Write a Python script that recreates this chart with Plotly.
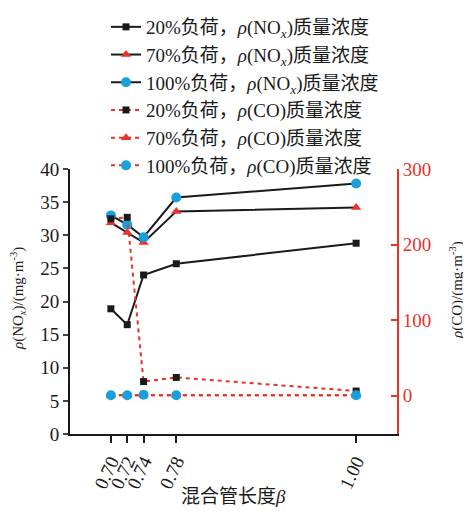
import plotly.graph_objects as go

beta = [0.70, 0.72, 0.74, 0.78, 1.00]
beta_labels = ["0.70", "0.72", "0.74", "0.78", "1.00"]

nox_20 = [18.9, 16.5, 24.0, 25.7, 28.8]
nox_70 = [31.9, 30.4, 28.9, 33.6, 34.2]
nox_100 = [33.0, 31.6, 29.7, 35.7, 37.8]

co_20 = [234, 236, 18.5, 24, 6]
co_70 = [0.5, 0.5, 0.5, 0.5, 0.5]
co_100 = [0.3, 0.3, 1.0, 0.3, 0.3]

x_title = "混合管长度<i>β</i>"
y_title = "<i>ρ</i>(NO<sub><i>x</i></sub>)/(mg·m<sup>-3</sup>)"
y2_title = "<i>ρ</i>(CO)/(mg·m<sup>-3</sup>)"

BLACK = "#1a1a1a"
RED = "#e8322a"
BLUE = "#1a9fdb"
FONT = "Liberation Serif, Noto Sans CJK SC, serif"

# the page body adds an 8px offset; the figure is sized to fill the rest of the window
OFF = 8
W, H = 471 - OFF, 511 - OFF
ML, MT = 62, 161
PW, PH = 327, 265
MR, MB = W - ML - PW, H - MT - PH

def win_to_paper(xw, yw):
    xp, yp = xw - OFF, yw - OFF
    return (xp - ML) / PW, (H - MB - yp) / PH

fig = go.Figure()

def nox_name(p):
    return f"{p}负荷，<i>ρ</i>(NO<sub><i>x</i></sub>)质量浓度"

def co_name(p):
    return f"{p}负荷，<i>ρ</i>(CO)质量浓度"

fig.add_trace(go.Scatter(x=beta, y=nox_20, mode="lines+markers", name=nox_name("20%"),
                         line=dict(color=BLACK, width=2),
                         marker=dict(symbol="square", size=7, color=BLACK)))
fig.add_trace(go.Scatter(x=beta, y=nox_70, mode="lines+markers", name=nox_name("70%"),
                         line=dict(color=BLACK, width=2),
                         marker=dict(symbol="triangle-up", size=9, color=RED)))
fig.add_trace(go.Scatter(x=beta, y=nox_100, mode="lines+markers", name=nox_name("100%"),
                         line=dict(color=BLACK, width=2),
                         marker=dict(symbol="circle", size=10, color=BLUE)))
fig.add_trace(go.Scatter(x=beta, y=co_20, mode="lines+markers", name=co_name("20%"), yaxis="y2",
                         line=dict(color=RED, width=2, dash="4px,4px"),
                         marker=dict(symbol="square", size=7, color=BLACK)))
fig.add_trace(go.Scatter(x=beta, y=co_70, mode="lines+markers", name=co_name("70%"), yaxis="y2",
                         line=dict(color=RED, width=2, dash="4px,4px"),
                         marker=dict(symbol="triangle-up", size=9, color=RED)))
fig.add_trace(go.Scatter(x=beta, y=co_100, mode="lines+markers", name=co_name("100%"), yaxis="y2",
                         line=dict(color=RED, width=2, dash="4px,4px"),
                         marker=dict(symbol="circle", size=10, color=BLUE)))

ax_l = win_to_paper(18, 299)
ax_r = win_to_paper(456, 290)
ax_b = win_to_paper(234, 496)

fig.update_layout(
    width=W, height=H,
    margin=dict(l=ML, r=MR, t=MT, b=MB, autoexpand=False),
    paper_bgcolor="white", plot_bgcolor="white",
    font=dict(family=FONT, size=16, color=BLACK),
    showlegend=True,
    legend=dict(xref="container", yref="container", x=(106 - OFF) / W, y=1.023,
                xanchor="left", yanchor="top",
                font=dict(size=19, family=FONT, color=BLACK),
                bgcolor="rgba(0,0,0,0)", tracegroupgap=0, itemwidth=30),
    xaxis=dict(range=[0.65, 1.05], tickvals=beta, ticktext=beta_labels, tickangle=-65,
               showline=True, linecolor=BLACK, linewidth=2, ticks="outside", ticklen=7,
               tickwidth=1.5, tickcolor=BLACK, showgrid=False, zeroline=False,
               tickfont=dict(size=19)),
    yaxis=dict(range=[0, 40], dtick=5, showline=True, linecolor=BLACK, linewidth=2,
               ticks="outside", ticklen=5, tickwidth=1.5, showgrid=False, zeroline=False,
               tickfont=dict(size=19)),
    yaxis2=dict(range=[-50.9, 300], tickvals=[0, 100, 200, 300], overlaying="y", side="right",
                showline=True, linecolor=RED, linewidth=2, ticks="inside", ticklen=6, tickwidth=1.5,
                tickcolor=RED, tickfont=dict(size=19, color=RED), showgrid=False, zeroline=False),
    annotations=[
        dict(text=y_title, xref="paper", yref="paper", x=ax_l[0], y=ax_l[1], textangle=-90,
             showarrow=False, xanchor="center", yanchor="middle", font=dict(size=15, color=BLACK)),
        dict(text=y2_title, xref="paper", yref="paper", x=ax_r[0], y=ax_r[1], textangle=-90,
             showarrow=False, xanchor="center", yanchor="middle", font=dict(size=15, color=BLACK)),
        dict(text=x_title, xref="paper", yref="paper", x=ax_b[0], y=ax_b[1],
             showarrow=False, xanchor="center", yanchor="middle", font=dict(size=19, color=BLACK)),
    ],
)

fig.write_html("out.html")
